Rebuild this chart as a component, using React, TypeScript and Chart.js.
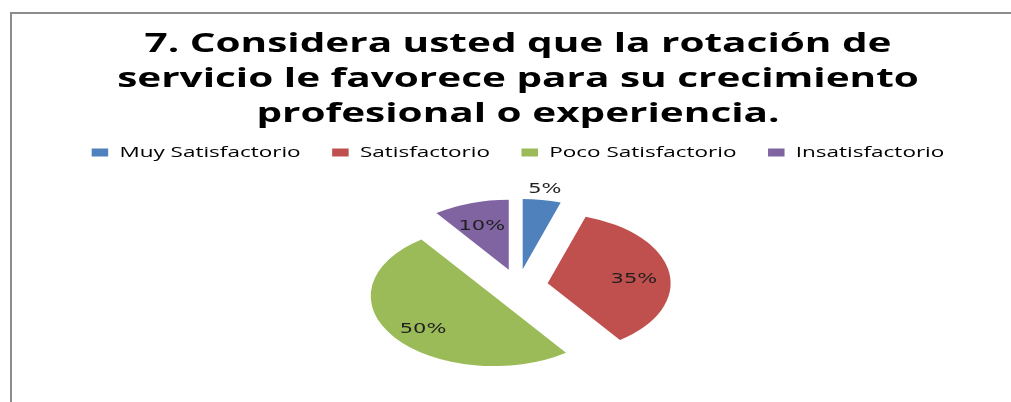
import React, { useEffect, useRef } from 'react';
import { Chart, registerables } from 'chart.js';

Chart.register(...registerables);

// ---- data ----
const titleLines = [
  '7. Considera usted que la rotación de',
  'servicio le favorece para su crecimiento',
  'profesional o experiencia.',
];
const categories = ['Muy Satisfactorio', 'Satisfactorio', 'Poco Satisfactorio', 'Insatisfactorio'];
const values = [5, 35, 50, 10];
const sliceColors = ['#4F81BD', '#C0504D', '#9BBB59', '#8064A2'];

// ---- layout / style constants ----
const W = 1011;
const H = 402;
const SX = 1.5; // horizontal stretch of the whole picture
const CENTER_X = 518; // page x of the visual centre
const TILT = 0.854; // vertical squash of the pie
const EXPLODE = 20; // explosion distance of every slice
const RADIUS = 82;
const INNER_LABEL_DY = 4;

export default function App() {
  const ref = useRef<HTMLCanvasElement>(null);

  useEffect(() => {
    const canvas = ref.current;
    if (!canvas) return;
    const total = values.reduce((a, b) => a + b, 0);
    const padLeft = 4;
    const padRight = W + padLeft - (2 * CENTER_X) / SX;

    const stretchPlugin = {
      id: 'stretch',
      beforeDraw(chart: any) {
        chart.ctx.save();
        chart.ctx.scale(SX, 1);
      },
      afterDraw(chart: any) {
        chart.ctx.restore();
      },
    };

    const piePlugin = {
      id: 'tiltedExplodedPie',
      beforeDatasetDraw(chart: any, args: any) {
        const ctx = chart.ctx;
        const arcs = args.meta.data;
        if (!arcs.length) return;
        const cx = arcs[0].x;
        const cy = arcs[0].y;
        ctx.save();
        ctx.translate(cx, cy);
        ctx.scale(1, TILT);
        ctx.translate(-cx, -cy);
        arcs.forEach((arc: any) => {
          const mid = (arc.startAngle + arc.endAngle) / 2;
          ctx.save();
          ctx.translate(Math.cos(mid) * EXPLODE, Math.sin(mid) * EXPLODE);
          arc.draw(ctx);
          ctx.restore();
        });
        ctx.restore();

        ctx.save();
        ctx.font = '14px "DejaVu Sans"';
        ctx.fillStyle = '#1f1f1f';
        ctx.textAlign = 'center';
        ctx.textBaseline = 'middle';
        arcs.forEach((arc: any, i: number) => {
          const pct = (values[i] / total) * 100;
          const outside = pct < 8;
          const mid = (arc.startAngle + arc.endAngle) / 2;
          const r = EXPLODE + arc.outerRadius * (outside ? 1.15 : 0.71);
          const x = arc.x + Math.cos(mid) * r;
          const y = arc.y + Math.sin(mid) * r * TILT + (outside ? 0 : INNER_LABEL_DY);
          ctx.fillText(Math.round(pct) + '%', x, y);
        });
        ctx.restore();
        return false;
      },
    };

    const chart = new Chart(canvas, {
      type: 'pie',
      data: {
        labels: categories,
        datasets: [
          {
            data: values,
            backgroundColor: sliceColors,
            borderWidth: 0,
            radius: RADIUS,
            clip: false,
          } as any,
        ],
      },
      options: {
        responsive: false,
        animation: false,
        devicePixelRatio: 1,
        events: [],
        layout: { padding: { left: padLeft, right: padRight, top: 0, bottom: 0 } },
        plugins: {
          title: {
            display: true,
            text: titleLines,
            color: '#000',
            font: { family: "'Open Sans'", size: 27, weight: 'bold', lineHeight: 35 / 27 },
            padding: { top: 27, bottom: -8 },
          },
          legend: {
            position: 'top',
            labels: {
              boxWidth: 11,
              boxHeight: 8,
              padding: 21,
              color: '#000',
              font: { family: "'Open Sans'", size: 15 },
            },
          },
          tooltip: { enabled: false },
        },
      } as any,
      plugins: [stretchPlugin, piePlugin],
    });

    return () => chart.destroy();
  }, []);

  return (
    <div style={{ position: 'absolute', left: 0, top: 0, width: W, height: H, overflow: 'hidden', background: '#fff' }}>
      <div
        style={{
          position: 'absolute',
          left: 10,
          top: 12,
          width: 1100,
          height: 500,
          borderLeft: '2px solid #8c8c8c',
          borderTop: '2px solid #8c8c8c',
        }}
      />
      <canvas
        ref={ref}
        width={W}
        height={H}
        style={{ position: 'absolute', left: 0, top: 0, width: W, height: H, display: 'block' }}
      />
    </div>
  );
}
